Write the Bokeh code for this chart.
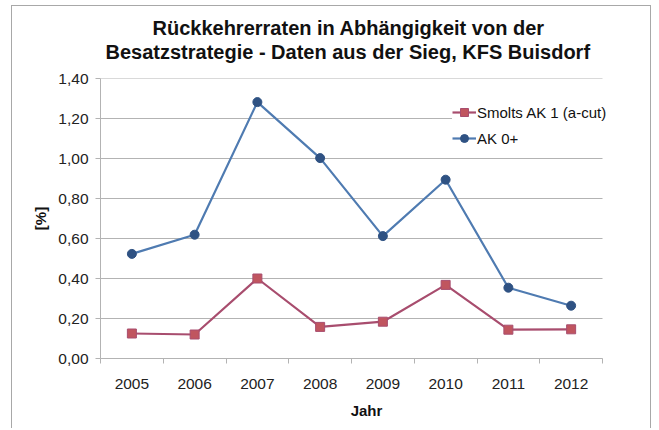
from bokeh.plotting import figure
from bokeh.models import Range1d, FixedTicker, CustomJSTickFormatter, Legend, LegendItem, Title
from bokeh.embed import file_html
from bokeh.resources import INLINE

years = [2005, 2006, 2007, 2008, 2009, 2010, 2011, 2012]
smolts = [0.125, 0.12, 0.40, 0.158, 0.184, 0.368, 0.144, 0.146]
ak0 = [0.523, 0.619, 1.282, 1.002, 0.612, 0.894, 0.354, 0.264]
y_ticks = [0.0, 0.2, 0.4, 0.6, 0.8, 1.0, 1.2, 1.4]
title_lines = ["Rückkehrerraten in Abhängigkeit von der",
               "Besatzstrategie - Daten aus der Sieg, KFS Buisdorf"]

FONT = "Liberation Sans"
GRID = "#b3b3b3"

# layout: the category area is 502 px wide, the frame goes a further 30 px to the right
FIG_W, LEFT, RIGHT = 640, 88, 20
AREA_PX = 502
frame_w = FIG_W - LEFT - RIGHT
x0 = years[0] - 0.5
x1 = years[-1] + 0.5
x_end = x0 + (x1 - x0) * frame_w / AREA_PX

p = figure(width=FIG_W, height=423, output_backend="svg", toolbar_location=None,
           x_range=Range1d(x0, x_end), y_range=Range1d(0, 1.4),
           min_border_left=LEFT, min_border_right=RIGHT, min_border_top=72, min_border_bottom=71)
p.styles = {"margin-left": "11px", "margin-top": "5px",
            "border-left": "1px solid #a8a8a8", "border-top": "1px solid #a8a8a8",
            "border-right": "1px solid #a8a8a8"}
p.outline_line_color = None
p.border_fill_color = "white"
p.background_fill_color = "white"

# axes
p.xaxis.bounds = (x0, x1)
p.xaxis.ticker = FixedTicker(ticks=years, minor_ticks=[y - 0.5 for y in years] + [x1])
p.xaxis.major_tick_out = 0
p.xaxis.major_tick_in = 0
p.xaxis.minor_tick_out = 5
p.xaxis.minor_tick_in = 0
p.xaxis.minor_tick_line_color = GRID
p.xaxis.axis_line_color = GRID
p.xaxis.major_label_standoff = 15
p.xaxis.axis_label = "Jahr"
p.xaxis.axis_label_standoff = 10

p.yaxis.ticker = FixedTicker(ticks=y_ticks)
p.yaxis.formatter = CustomJSTickFormatter(code="return tick.toFixed(2).replace('.', ',');")
p.yaxis.major_tick_out = 5
p.yaxis.major_tick_in = 0
p.yaxis.minor_tick_out = 0
p.yaxis.minor_tick_in = 0
p.yaxis.major_tick_line_color = GRID
p.yaxis.axis_line_color = GRID
p.yaxis.major_label_standoff = 7
p.yaxis.axis_label = "[%]"
p.yaxis.axis_label_standoff = 6

for ax in (p.xaxis, p.yaxis):
    ax.major_label_text_font = FONT
    ax.major_label_text_font_size = "15.5px"
    ax.major_label_text_color = "#222222"
    ax.axis_label_text_font = FONT
    ax.axis_label_text_font_size = "15px"
    ax.axis_label_text_font_style = "bold"
    ax.axis_label_text_color = "#111111"

p.xgrid.grid_line_color = None
p.ygrid.grid_line_color = None
# horizontal gridlines limited to the category area
p.segment(x0=[x0] * len(y_ticks), x1=[x1] * len(y_ticks), y0=y_ticks, y1=y_ticks,
          line_color=GRID, line_width=1)

# series
r1l = p.line(years, smolts, line_color="#a84d6e", line_width=2.2)
r1m = p.scatter(years, smolts, marker="square", size=9, fill_color="#c0555f", line_color="#a84d6e", line_width=1)
r2l = p.line(years, ak0, line_color="#4f7bb1", line_width=2.2)
r2m = p.scatter(years, ak0, marker="circle", size=9, fill_color="#2f5283", line_color="#2f5283")

legend = Legend(items=[LegendItem(label="Smolts AK 1 (a-cut)", renderers=[r1l, r1m]),
                       LegendItem(label="AK 0+", renderers=[r2l, r2m])],
                location=(352, 210), orientation="vertical",
                label_text_font=FONT, label_text_font_size="15px", label_text_color="#111111",
                glyph_width=24, glyph_height=20, label_height=20, spacing=6,
                label_standoff=1, padding=4, margin=0,
                background_fill_color="white", background_fill_alpha=1.0,
                border_line_color=None)
p.add_layout(legend, "center")

# the two title lines (the line nearest the plot is added first)
p.add_layout(Title(text=title_lines[1], align="left", offset=5, text_font=FONT,
                   text_font_size="20px", text_font_style="bold", text_color="#111111",
                   standoff=32), "above")
p.add_layout(Title(text=title_lines[0], align="left", offset=52, text_font=FONT,
                   text_font_size="20px", text_font_style="bold", text_color="#111111",
                   standoff=-33), "above")

open("out.html", "w").write(file_html(p, INLINE))
